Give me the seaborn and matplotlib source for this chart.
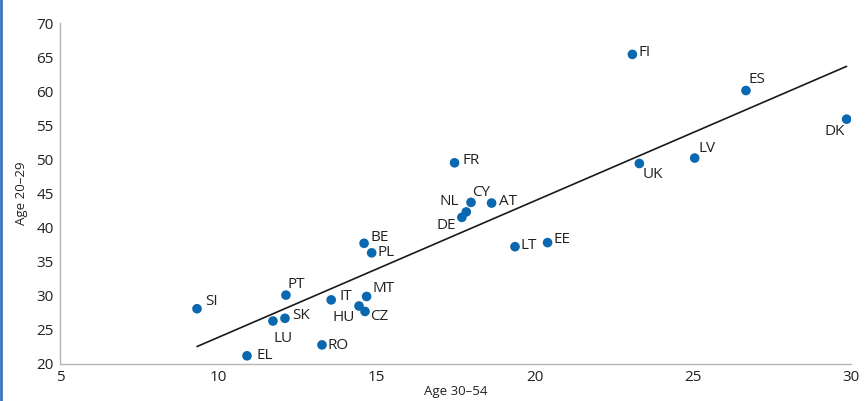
import matplotlib
matplotlib.use("Agg")
import matplotlib.pyplot as plt
from matplotlib.lines import Line2D
import pandas as pd
import seaborn as sns

# Country codes and rates for the two age groups
countries = ["SI", "EL", "LU", "SK", "PT", "RO", "IT", "HU", "CZ", "MT",
             "BE", "PL", "FR", "CY", "NL", "DE", "AT", "LT", "EE", "FI",
             "ES", "DK", "UK", "LV"]
age_30_54 = [9.33, 10.91, 11.73, 12.11, 12.14, 13.28, 13.57, 14.45, 14.64, 14.69,
             14.61, 14.85, 17.47, 17.99, 17.84, 17.70, 18.64, 19.38, 20.41, 23.09,
             26.68, 29.86, 23.31, 25.06]
age_20_29 = [28.1, 21.2, 26.3, 26.7, 30.1, 22.8, 29.4, 28.5, 27.7, 29.9,
             37.7, 36.3, 49.5, 43.7, 42.3, 41.5, 43.6, 37.2, 37.8, 65.4,
             60.1, 55.9, 49.4, 50.2]

# Label placement: pixel offset from the marker and horizontal alignment
label_dx = [8, 9, 10, 7, 2, 6, 8, -4, 5, 6, 6, 6, 8, 1, -7, -6, 7, 6, 6, 6, 3, -2, 3, 4]
label_dy = [7, 0, -17, 3, 11, -1, 3, -11, -5, 8, 6, 0, 2, 10, 10, -8, 2, 1, 3, 2, 11, -12, -11, 10]
label_ha = ["left", "left", "center", "left", "left", "left", "left", "right", "left", "left",
            "left", "left", "left", "left", "right", "right", "left", "left", "left", "left",
            "left", "right", "left", "left"]

df = pd.DataFrame({"country": countries, "x": age_30_54, "y": age_20_29})

sns.set_style("white")
plt.rcParams["font.family"] = ["Open Sans", "DejaVu Sans"]

text_color = "#222222"
axis_color = "#b5b5b5"
dot_color = "#0a68b0"

fig = plt.figure(figsize=(8.66, 4.01), dpi=100)
ax = fig.add_axes([0.0693, 0.0923, 0.9134, 0.8503])

sns.regplot(data=df, x="x", y="y", scatter=False, ci=None, truncate=True,
            color="#1a1a1a", line_kws={"linewidth": 1.2}, ax=ax)
sns.scatterplot(data=df, x="x", y="y", color=dot_color, s=48, edgecolor="none",
                ax=ax, zorder=3)

for c, xv, yv, dx, dy, ha in zip(countries, age_30_54, age_20_29,
                                 label_dx, label_dy, label_ha):
    ax.annotate(c, (xv, yv), xytext=(dx, dy), textcoords="offset pixels",
                ha=ha, va="center", fontsize=11, color=text_color)

ax.set_xlim(5, 30)
ax.set_ylim(20, 70)
ax.set_xticks([5, 10, 15, 20, 25, 30])
ax.set_yticks(range(20, 71, 5))

for side in ("top", "right"):
    ax.spines[side].set_visible(False)
for side in ("left", "bottom"):
    ax.spines[side].set_color(axis_color)
    ax.spines[side].set_linewidth(1.0)

ax.tick_params(axis="both", direction="inout", length=5, width=1.0,
               color=axis_color, labelsize=11, labelcolor=text_color, pad=2)

ax.set_xlabel("Age 30\u201354", fontsize=9.5, color=text_color, labelpad=0)
ax.set_ylabel("Age 20\u201329", fontsize=9.5, color=text_color, labelpad=6)

# Thin blue rule along the left edge of the figure
fig.add_artist(Line2D([0.0012, 0.0012], [0, 1], transform=fig.transFigure,
                      color="#3f72b8", linewidth=2))

fig.savefig("out.png", dpi=100)
